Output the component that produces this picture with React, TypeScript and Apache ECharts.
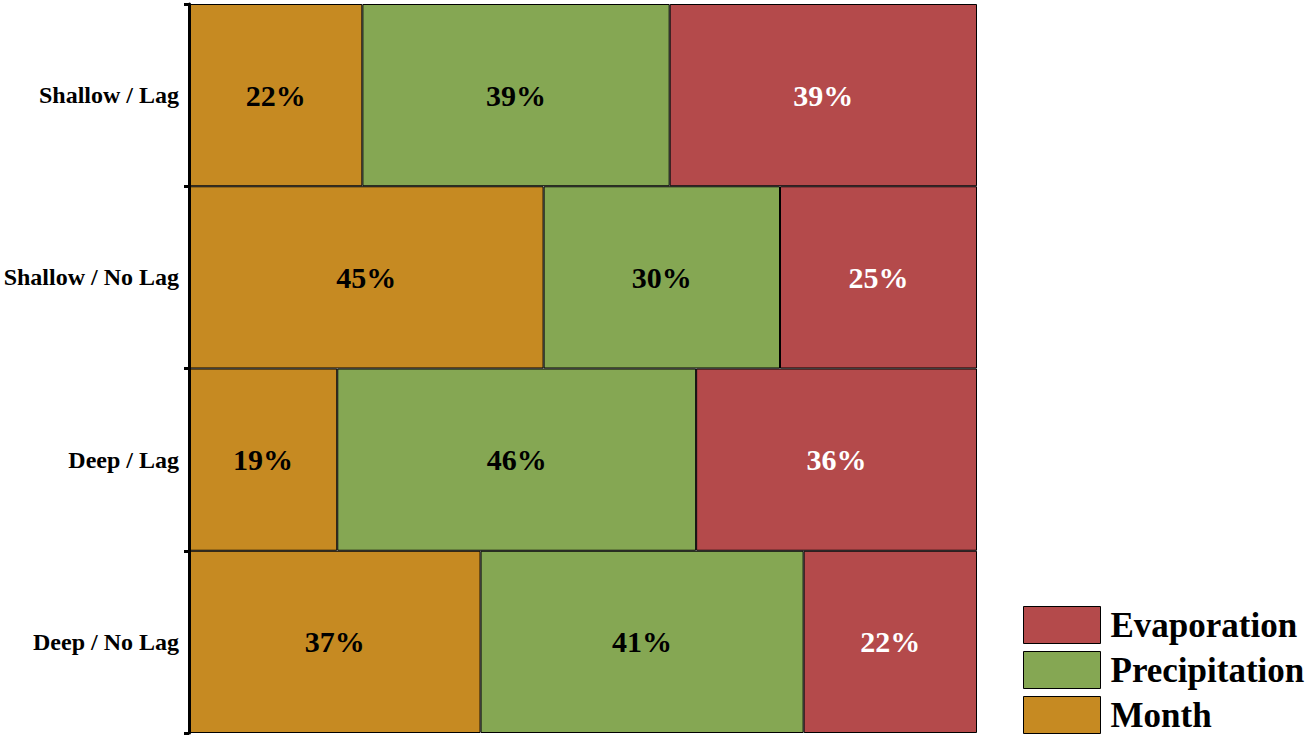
import { useRef, useEffect } from 'react'
import * as echarts from 'echarts'

const categories = ['Shallow / Lag', 'Shallow / No Lag', 'Deep / Lag', 'Deep / No Lag']
const monthValues = [22, 45, 19, 37]
const precipitationValues = [39, 30, 46, 41]
const evaporationValues = [39, 25, 36, 22]

const serif = '"Liberation Serif", "DejaVu Serif", serif'

const rowSums = categories.map((_, i) => monthValues[i] + precipitationValues[i] + evaporationValues[i])

// bars are drawn as shares of each row, labels show the printed value
const toItems = (vals: number[]) =>
  vals.map((v, i) => ({ value: (v / rowSums[i]) * 100, raw: v }))

export default function App() {
  const chartRef = useRef<HTMLDivElement>(null)

  useEffect(() => {
    document.body.style.margin = '0'
    if (!chartRef.current) return
    const chart = echarts.init(chartRef.current, undefined, { renderer: 'svg' })

    const makeSeries = (name: string, vals: number[], color: string, labelColor: string) => ({
      name,
      type: 'bar' as const,
      stack: 'total',
      data: toItems(vals),
      barCategoryGap: 0,
      itemStyle: { color, borderColor: '#000', borderWidth: 1 },
      label: {
        show: true,
        position: 'inside',
        color: labelColor,
        fontFamily: serif,
        fontWeight: 'bold',
        fontSize: 30,
        formatter: (p: any) => `${p.data.raw}%`,
      },
    })

    chart.setOption({
      animation: false,
      backgroundColor: '#fff',
      grid: { left: 189, top: 4, width: 788, height: 729 },
      xAxis: { type: 'value', min: 0, max: 100, show: false },
      yAxis: {
        type: 'category',
        data: categories,
        inverse: true,
        z: 10,
        axisLine: { show: true, lineStyle: { color: '#000', width: 3 } },
        axisTick: { show: true, length: 5, lineStyle: { color: '#000', width: 3 } },
        axisLabel: {
          color: '#000',
          fontFamily: serif,
          fontWeight: 'bold',
          fontSize: 24,
          margin: 10,
        },
        splitLine: { show: false },
      },
      legend: {
        orient: 'vertical',
        left: 1023,
        top: 606,
        data: ['Evaporation', 'Precipitation', 'Month'],
        icon: 'rect',
        itemWidth: 77,
        itemHeight: 37,
        itemGap: 7,
        padding: 0,
        itemStyle: { borderColor: '#000', borderWidth: 1 },
        textStyle: {
          color: '#000',
          fontFamily: serif,
          fontWeight: 'bold',
          fontSize: 35,
          lineHeight: 37,
          padding: [0, 0, 0, 5],
        },
      },
      series: [
        makeSeries('Month', monthValues, '#C68A22', '#000'),
        makeSeries('Precipitation', precipitationValues, '#85A753', '#000'),
        makeSeries('Evaporation', evaporationValues, '#B44A4B', '#fff'),
      ],
    })

    return () => chart.dispose()
  }, [])

  return <div ref={chartRef} style={{ width: 1305, height: 739 }} />
}
